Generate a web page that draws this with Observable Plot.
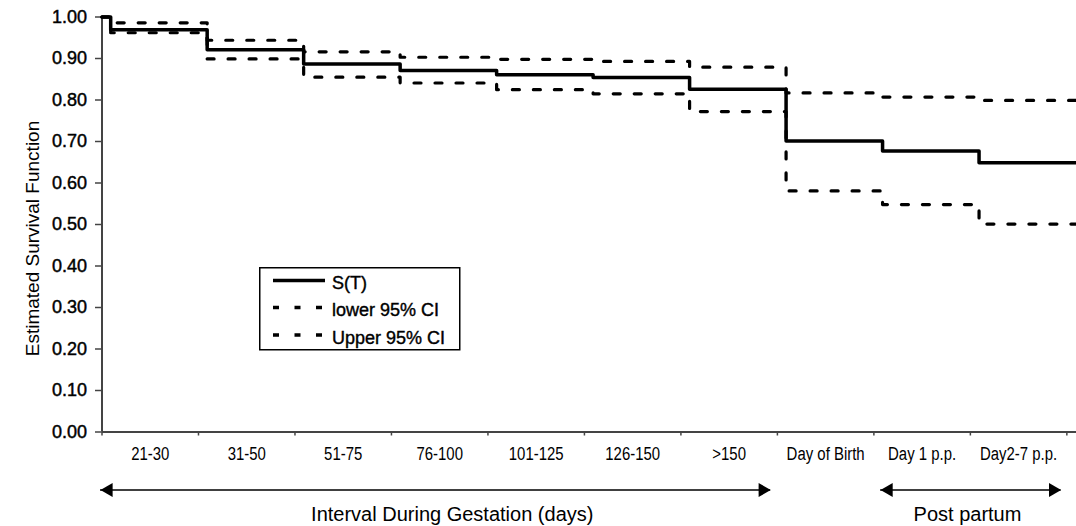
<!DOCTYPE html>
<html>
<head>
<meta charset="utf-8">
<script src="https://cdn.jsdelivr.net/npm/d3@7"></script>
<script src="https://cdn.jsdelivr.net/npm/@observablehq/plot@0.6"></script>
<style>
  body { margin: 0; background: #fff; }
  #wrap { position: relative; width: 1076px; height: 526px; background: #fff; }
  #wrap > svg.chart { position: absolute; left: 0; top: 0; }
  #wrap > svg#legend { position: absolute; left: 259px; top: 267px; }
</style>
</head>
<body>
<div id="wrap"></div>
<script>
// ---- data ----
const intervals = ["21-30", "31-50", "51-75", "76-100", "101-125", "126-150", ">150", "Day of Birth", "Day 1 p.p.", "Day2-7 p.p."];
const survival = [1.00, 0.969, 0.921, 0.887, 0.871, 0.861, 0.854, 0.826, 0.701, 0.677, 0.649];
const lowerCI  = [1.00, 0.962, 0.899, 0.855, 0.841, 0.825, 0.815, 0.772, 0.581, 0.548, 0.501];
const upperCI  = [1.00, 0.986, 0.944, 0.916, 0.903, 0.898, 0.893, 0.879, 0.817, 0.807, 0.799];
const yTicks = [0, 0.1, 0.2, 0.3, 0.4, 0.5, 0.6, 0.7, 0.8, 0.9, 1.0];
const seriesNames = ["S(T)", "lower 95% CI", "Upper 95% CI"];
const yTitle = "Estimated Survival Function";
const spanLabels = ["Interval During Gestation (days)", "Post partum"];
const spanFrom = [-0.015, 8.07];
const spanTo = [6.93, 9.94];
const spanLabelAt = [3.63, 8.97];
const stepOffset = 0.09;   // drop occurs just after each interval tick
const xMax = 10.1;

// ---- build tables ----
const times = [0, ...intervals.map((_, i) => i + stepOffset)];
const toSteps = vals => [...times.map((t, i) => ({t, v: vals[i]})), {t: xMax, v: vals[vals.length - 1]}];
const spans = spanLabels.map((label, i) => ({label, from: spanFrom[i], to: spanTo[i], at: spanLabelAt[i]}));

const font = "'Liberation Sans', Arial, sans-serif";

const chart = Plot.plot({
  width: 1076,
  height: 526,
  marginLeft: 101.5,
  marginRight: 0,
  marginTop: 16.5,
  marginBottom: 94.5,
  x: {domain: [0, xMax], axis: null},
  y: {domain: [0, 1], axis: null},
  style: {fontFamily: font, fontSize: "18px", color: "#000", background: "#fff"},
  marks: [
    Plot.axisY({ticks: yTicks, tickFormat: d3.format(".2f"), tickSize: 6.5, tickPadding: 8.5,
      stroke: "#444", strokeWidth: 1.5, fill: "#000", fontSize: 18, label: null, className: "ytick"}),
    Plot.axisX({ticks: d3.range(0, intervals.length + 1), tickSize: 4, tickFormat: () => "",
      stroke: "#444", strokeWidth: 1.5, label: null}),
    Plot.ruleX([0], {stroke: "#444", strokeWidth: 2}),
    Plot.ruleY([0], {stroke: "#444", strokeWidth: 2}),
    Plot.line(toSteps(upperCI), {x: "t", y: "v", curve: "step-after", stroke: "#000", strokeWidth: 3.2, strokeDasharray: "7,14"}),
    Plot.line(toSteps(lowerCI), {x: "t", y: "v", curve: "step-after", stroke: "#000", strokeWidth: 3.2, strokeDasharray: "7,14"}),
    Plot.line(toSteps(survival), {x: "t", y: "v", curve: "step-after", stroke: "#000", strokeWidth: 3.5}),
    Plot.text(intervals, {x: (d, i) => i + 0.5, y: () => 0, dy: 22.5, text: d => d,
      fontSize: 18, fill: "#000", className: "cat-label"}),
    Plot.ruleY(spans, {x1: "from", x2: "to", y: () => 0, dy: 58, stroke: "#000", strokeWidth: 1.6}),
    Plot.dot(spans, {x: "from", y: () => 0, dx: 8, dy: 58, symbol: "triangle", r: 5.2,
      fill: "#000", stroke: null, rotate: -90}),
    Plot.dot(spans, {x: "to", y: () => 0, dx: -8, dy: 58, symbol: "triangle", r: 5.2,
      fill: "#000", stroke: null, rotate: 90}),
    Plot.text(spans, {x: "at", y: () => 0, dy: 83, text: "label", fontSize: 20, fill: "#000"}),
    Plot.text([yTitle], {frameAnchor: "left", textAnchor: "middle", rotate: -90, dx: -69.5, dy: 14,
      text: d => d, fontSize: 19, fill: "#000"})
  ]
});
chart.classList.add("chart");

const wrap = document.getElementById("wrap");
wrap.appendChild(chart);

// category labels in the reference use a condensed face: compress horizontally
d3.select(chart).selectAll(".cat-label text").each(function() {
  const w = this.getComputedTextLength();
  this.setAttribute("textLength", (w * 0.83).toFixed(1));
  this.setAttribute("lengthAdjust", "spacingAndGlyphs");
});
// the scanned tick labels are a little heavier than regular weight
d3.select(chart).selectAll(".ytick text")
  .attr("stroke", "#000").attr("stroke-width", 0.45);

// ---- legend ----
const lg = d3.select(wrap).append("svg").attr("id", "legend")
  .attr("width", 202).attr("height", 84);
lg.append("rect").attr("x", 0.75).attr("y", 0.75).attr("width", 200).attr("height", 82)
  .attr("fill", "#fff").attr("stroke", "#000").attr("stroke-width", 1.5);
const rowY = [13.5, 40.5, 68];
seriesNames.forEach((name, i) => {
  const g = lg.append("g").attr("transform", `translate(0,${rowY[i]})`);
  g.append("line").attr("x1", 14).attr("x2", 66).attr("y1", 0).attr("y2", 0)
    .attr("stroke", "#000").attr("stroke-width", i === 0 ? 3.5 : 3.6)
    .attr("stroke-dasharray", i === 0 ? null : "6,15.5");
  g.append("text").attr("x", 73).attr("y", 3).attr("dy", "0.32em")
    .attr("font-family", font).attr("font-size", 18).attr("fill", "#000")
    .attr("stroke", "#000").attr("stroke-width", 0.4).text(name);
});
</script>
</body>
</html>
